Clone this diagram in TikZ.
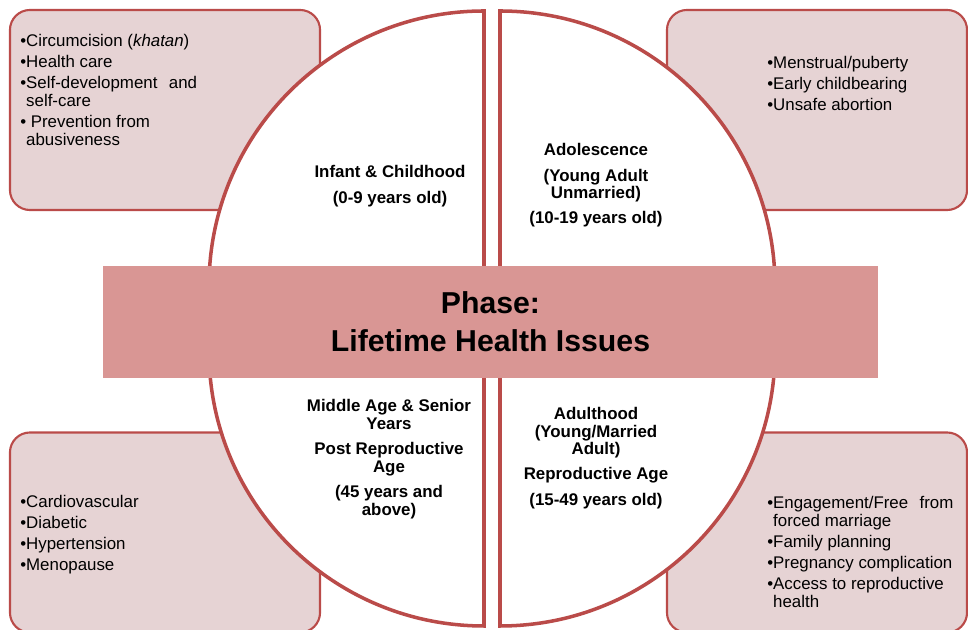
\documentclass[tikz,border=0pt]{standalone}
\usepackage{fontspec}
\setmainfont{Liberation Sans}
\usepackage{xcolor}
\usepackage{tikz}

\definecolor{rimred}{HTML}{BA4B49}
\definecolor{boxpink}{HTML}{E6D3D4}
\definecolor{bannerpink}{HTML}{D99694}

\tikzset{
  issuebox/.style={rectangle, rounded corners=0.5cm, draw=rimred, line width=1.5pt, fill=boxpink, minimum height=5cm},
  issuelist/.style={anchor=north west, inner sep=0pt, align=left, font=\fontsize{12}{12.8}\selectfont},
  quarter/.style={draw=rimred, line width=2.5pt, fill=white},
  phaselabel/.style={inner sep=0pt, align=center, font=\bfseries\fontsize{12}{12.5}\selectfont},
  banner/.style={rectangle, fill=bannerpink, minimum width=19.375cm, minimum height=2.8cm, align=center, font=\bfseries\fontsize{21.5}{27}\selectfont}
}

\begin{document}
\begin{tikzpicture}[x=0.025cm, y=0.025cm]
\clip (0,0) rectangle (968,630);

% issue boxes behind the circle
\draw (165,520) node[issuebox, minimum width=7.75cm] (tlbox) {};

\draw (817,520) node[issuebox, minimum width=7.5cm] (trbox) {};

\draw (165,97.5) node[issuebox, minimum width=7.75cm] (blbox) {};

\draw (817,97.5) node[issuebox, minimum width=7.5cm] (brbox) {};

\draw (20,596) node[issuelist] (tllist) {%
  •Circumcision (\textit{khatan})\\[2.2pt]
  •Health care\\[2.2pt]
  •Self-development\hspace{0.4em} and\\\phantom{•}self-care\\[2.2pt]
  • Prevention from\\\phantom{•}abusiveness};

\draw (767,574) node[issuelist] (trlist) {%
  •Menstrual/puberty\\[2.2pt]
  •Early childbearing\\[2.2pt]
  •Unsafe abortion};

\draw (20,135) node[issuelist] (bllist) {%
  •Cardiovascular\\[2.2pt]
  •Diabetic\\[2.2pt]
  •Hypertension\\[2.2pt]
  •Menopause};

\draw (767,134) node[issuelist] (brlist) {%
  •Engagement/Free\hspace{0.4em} from\\\phantom{•}forced marriage\\[2.2pt]
  •Family planning\\[2.2pt]
  •Pregnancy complication\\[2.2pt]
  •Access to reproductive\\\phantom{•}health};

% the four quarters
\draw[quarter] (484,344) -- (209,344) arc[start angle=180, end angle=90, radius=275] -- cycle;

\draw[quarter] (500,344) -- (500,619) arc[start angle=90, end angle=0, radius=275] -- cycle;

\draw[quarter] (484,279) -- (209,279) arc[start angle=180, end angle=270, radius=275] -- cycle;

\draw[quarter] (500,279) -- (500,4) arc[start angle=270, end angle=360, radius=275] -- cycle;

\draw (390,444) node[phaselabel] (infant) {Infant \& Childhood\\[5.5pt](0-9 years old)};

\draw (596,444.5) node[phaselabel] (adolescence) {Adolescence\\[5.5pt](Young Adult\\Unmarried)\\[5.5pt](10-19 years old)};

\draw (389,171) node[phaselabel] (senior) {Middle Age \& Senior\\Years\\[5.5pt]Post Reproductive\\Age\\[5.5pt](45 years and\\above)};

\draw (596,172) node[phaselabel] (adulthood) {Adulthood\\(Young/Married\\Adult)\\[5.5pt]Reproductive Age\\[5.5pt](15-49 years old)};

% banner across the middle
\draw (490.5,308) node[banner] (phase) {Phase:\\Lifetime Health Issues};

\end{tikzpicture}
\end{document}
